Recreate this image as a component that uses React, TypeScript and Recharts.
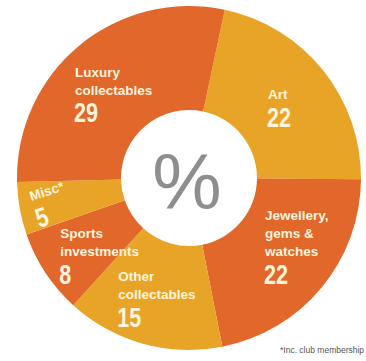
import React from 'react';
import { PieChart, Pie, Cell } from 'recharts';

const categories = ['Art', 'Jewellery, gems & watches', 'Other collectables', 'Sports investments', 'Misc*', 'Luxury collectables'];
const shares = [22, 22, 15, 8, 5, 29];
const labelLines = [['Art'], ['Jewellery,', 'gems &', 'watches'], ['Other', 'collectables'], ['Sports', 'investments'], ['Misc*'], ['Luxury', 'collectables']];
const sliceColors = ['#E8A426', '#E1672B', '#E8A426', '#E1672B', '#E8A426', '#E1672B'];
const centreText = '%';
const footnote = '*Inc. club membership';

const data = categories.map((name, i) => ({ name, value: shares[i] }));

// label block offsets from slice centroid (left edge, first line centre)
const labelOffset: [number, number][] = [[-16, -7], [-18, -40], [-38, -19], [-27, -12], [-39, -3], [-36, -12]];
const labelRot = [0, 0, 0, 0, -18, 0];

const FONT = "'Liberation Sans', Arial, sans-serif";

const RAD = Math.PI / 180;

const renderLabel = (props: any) => {
  const { cx, cy, midAngle, index } = props;
  const r = 122;
  const x = cx + r * Math.cos(-midAngle * RAD);
  const y = cy + r * Math.sin(-midAngle * RAD);
  const [dx, dy] = labelOffset[index];
  const lx = x + dx;
  const ly = y + dy;
  const lines: string[] = labelLines[index];
  const lh = 18;
  const numY = ly + lh * (lines.length - 1) + 23;
  return (
    <g key={`lab-${index}`}>
      {index === 0 && (
        <text x={cx - 2} y={cy + 4} fill="#8E8E8E" fontFamily={FONT} fontSize={78} textAnchor="middle" dominantBaseline="central">
          {centreText}
        </text>
      )}
      <g transform={`rotate(${labelRot[index]} ${lx} ${ly})`}>
        {lines.map((t, k) => (
          <text key={k} x={lx} y={ly + k * lh} fill="#FFF4DC" fontFamily={FONT} fontSize={13.5} fontWeight={700} dominantBaseline="central" textAnchor="start">
            {t}
          </text>
        ))}
        <g transform={`translate(${lx - 1} ${numY}) scale(0.8 1)`}>
          <text x={0} y={0} fill="#FFF4DC" fontFamily={FONT} fontSize={27} fontWeight={700} dominantBaseline="central" textAnchor="start">
            {shares[index]}
          </text>
        </g>
      </g>
    </g>
  );
};

export default function App() {
  return (
    <div style={{ position: 'absolute', left: 0, top: 0, width: 366, height: 361, overflow: 'hidden', background: '#ffffff' }}>
      <PieChart width={366} height={361} margin={{ top: 0, right: 0, bottom: 0, left: 0 }}>
        <Pie
          data={data}
          dataKey="value"
          nameKey="name"
          cx={189}
          cy={178}
          innerRadius={68}
          outerRadius={172}
          startAngle={78}
          endAngle={-282}
          stroke="none"
          isAnimationActive={false}
          labelLine={false}
          label={renderLabel}
        >
          {data.map((d, i) => (
            <Cell key={d.name} fill={sliceColors[i]} />
          ))}
        </Pie>
      </PieChart>
      <div style={{ position: 'absolute', left: 280, top: 345, fontFamily: FONT, fontSize: 8.5, color: '#555', whiteSpace: 'nowrap' }}>
        {footnote}
      </div>
    </div>
  );
}
